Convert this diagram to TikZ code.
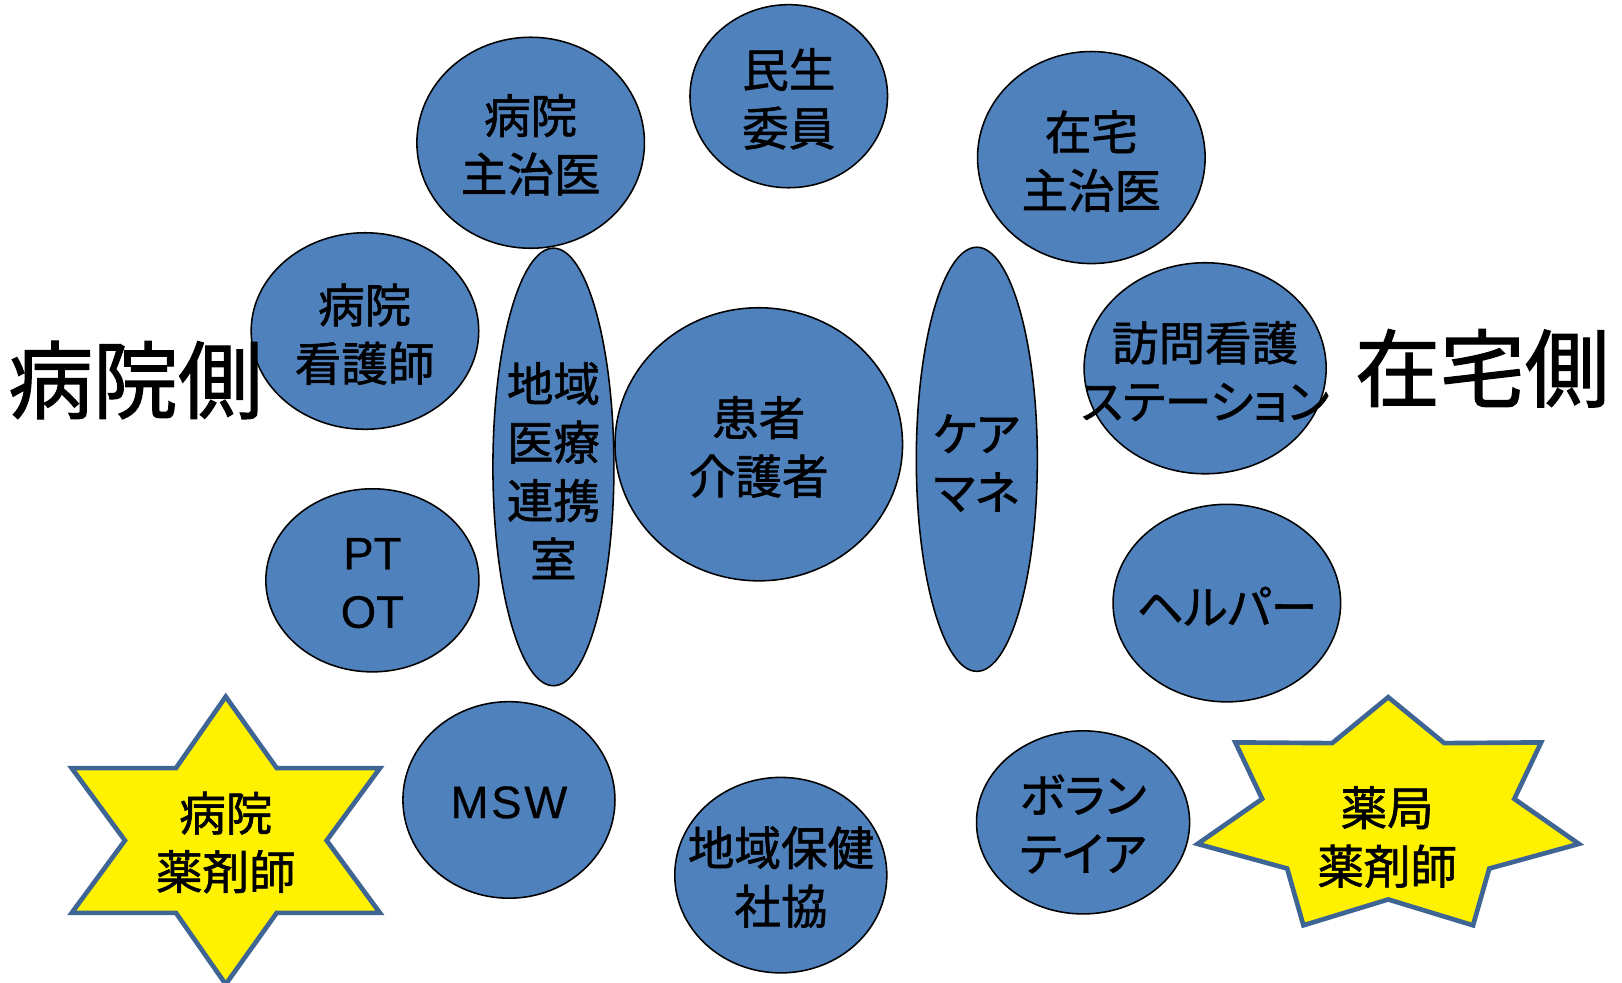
\documentclass[tikz,border=0pt]{standalone}
\usepackage{fontspec}
\setmainfont{Noto Sans CJK JP}[FakeBold=1.3]
\newfontfamily\latinfont{Liberation Sans}[FakeBold=0.6]
\newfontfamily\kanafont{Noto Sans CJK JP}[RawFeature=+palt, FakeBold=1.3]
\usetikzlibrary{shapes.geometric}
\definecolor{blobblue}{HTML}{4F81BD}
\definecolor{starblue}{HTML}{3F6594}
\tikzset{
  blob/.style={ellipse, draw=black, line width=1.5pt, fill=blobblue, inner sep=0pt, outer sep=0pt},
  lbl/.style={align=center, font=\fontsize{45}{56.5}\selectfont, inner sep=0pt, text=black},
  kana/.style={lbl, font=\fontsize{45}{56.5}\selectfont\kanafont},
  latin/.style={lbl, font=\fontsize{44}{56.5}\selectfont\latinfont},
  sidelbl/.style={font=\fontsize{82}{90}\selectfont, inner sep=0pt, text=black},
  starshape/.style={draw=starblue, line width=4.5pt, fill=yellow, line join=miter},
}
\begin{document}
\begin{tikzpicture}[x=1pt, y=-1pt]
\useasboundingbox (0,0) rectangle (1568,950);
% ellipses
\node[blob, minimum width=220pt, minimum height=204pt] (byoinshuji) at (513,138) {};
\node[blob, minimum width=191pt, minimum height=177pt] (minsei) at (762.5,93) {};
\node[blob, minimum width=220pt, minimum height=205pt] (zaitakushuji) at (1055,152.3) {};
\node[blob, minimum width=220pt, minimum height=190pt] (byoinkango) at (352.8,320) {};
\node[blob, minimum width=117pt, minimum height=423pt] (renkei) at (535,451.4) {};
\node[blob, minimum width=278pt, minimum height=264pt] (kanja) at (733.5,429.5) {};
\node[blob, minimum width=117pt, minimum height=410pt] (caremane) at (944.3,444) {};
\node[blob, minimum width=234pt, minimum height=204pt] (houmon) at (1165,356) {};
\node[blob, minimum width=206pt, minimum height=177pt] (ptot) at (360,561) {};
\node[blob, minimum width=220pt, minimum height=191pt] (helper) at (1186,583) {};
\node[blob, minimum width=205pt, minimum height=190pt] (msw) at (492,773.3) {};
\node[blob, minimum width=205pt, minimum height=189pt] (hoken) at (754.8,846) {};
\node[blob, minimum width=206pt, minimum height=177pt] (volunteer) at (1047,795) {};
% stars
\draw[starshape] (218.2,673.5) -- (267.5,742.5) -- (367.3,742.5) -- (315.8,812.5)
  -- (367.3,882.5) -- (267.5,882.5) -- (218.2,951.5) -- (170.1,882.5) -- (69.3,882.5)
  -- (120.8,812.5) -- (69.3,742.5) -- (170.1,742.5) -- cycle;
\draw[starshape] (1342,674) -- (1287.8,718.4) -- (1194.2,717.7) -- (1220.1,772.3)
  -- (1157.7,815.8) -- (1244.3,839.6) -- (1260.0,894.5) -- (1342,869.5)
  -- (1424.0,894.5) -- (1439.7,839.6) -- (1526.3,815.8) -- (1463.9,772.3)
  -- (1489.8,717.7) -- (1396.2,718.4) -- cycle;
% labels
\node[lbl] (t-byoinshuji) at (513,140) {病院\\主治医};
\node[lbl] (t-minsei) at (762.5,95.5) {民生\\委員};
\node[lbl] (t-zaitakushuji) at (1055,155.8) {在宅\\主治医};
\node[lbl] (t-byoinkango) at (352.5,323) {病院\\看護師};
\node[lbl] (t-renkei) at (535,455) {地域\\医療\\連携\\室};
\node[lbl] (t-kanja) at (733.5,432) {患者\\介護者};
\node[kana] (t-caremane) at (944,447.7) {ケア\\マネ};
\node[kana] (t-houmon) at (1165,359) {訪問看護\\ステーション};
\node[latin] (t-ptot) at (360,563.7) {PT\\OT};
\node[kana] (t-helper) at (1186,586) {ヘルパー};
\node[latin, font=\fontsize{44}{56.5}\selectfont\latinfont\addfontfeature{LetterSpace=6}] (t-msw) at (492,775.7) {MSW};
\node[lbl] (t-hoken) at (755,847.8) {地域保健\\社協};
\node[kana] (t-volunteer) at (1047,796.5) {ボラン\\テイア};
\node[lbl] (t-byoinyaku) at (218.3,814.4) {病院\\薬剤師};
\node[lbl] (t-kyokuyaku) at (1341,809.2) {薬局\\薬剤師};
\node[sidelbl] (t-byoinside) at (131,367.3) {病院側};
\node[sidelbl] (t-zaitakuside) at (1433,356) {在宅側};
\end{tikzpicture}
\end{document}
